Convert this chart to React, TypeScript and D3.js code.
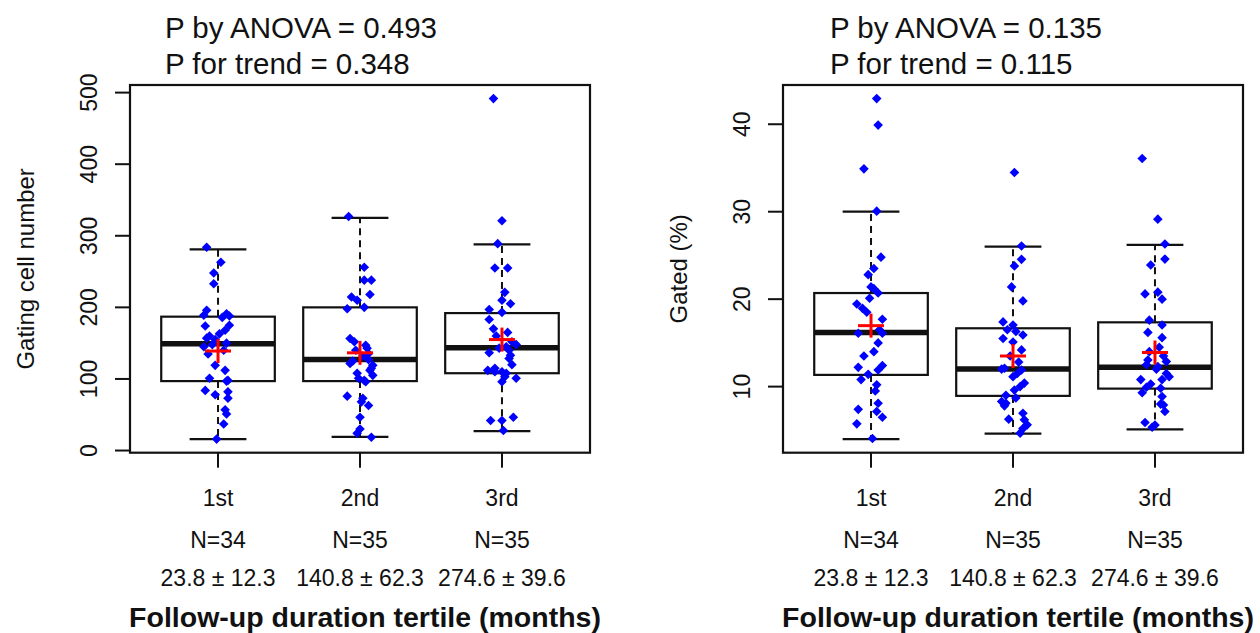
import React from "react";
import * as d3 from "d3";

const groups = ["1st", "2nd", "3rd"];
const nLabels = ["N=34", "N=35", "N=35"];
const durationLabels = ["23.8 ± 12.3", "140.8 ± 62.3", "274.6 ± 39.6"];
const xTitle = "Follow-up duration tertile (months)";

// Left panel: gating cell number
const cellLow = [16, 19, 27];
const cellQ1 = [97, 97, 108];
const cellMedian = [149, 127, 143.5];
const cellQ3 = [187, 200, 192];
const cellHigh = [281, 325, 288];
const cellMean = [139, 136.5, 155];
const cellTicks = [0, 100, 200, 300, 400, 500];
// [jitter (category units), value]
const cellPoints1: [number, number][] = [
  [-0.08, 284], [0.02, 263], [-0.03, 248], [-0.03, 233], [-0.08, 196], [-0.1, 189],
  [0.06, 191], [0.08, 188], [0.08, 175], [-0.09, 174], [0.05, 168], [0.01, 163],
  [-0.08, 157], [-0.02, 155], [0.06, 150], [-0.1, 145], [0.04, 140], [0.03, 186],
  [-0.06, 160], [-0.04, 148], [-0.07, 135], [-0.02, 119], [0.05, 112], [-0.06, 101],
  [0.07, 98], [0.06, 97], [-0.09, 84], [0.07, 82], [-0.02, 78], [0.07, 73],
  [0.05, 57], [0.06, 51], [0.04, 37], [-0.01, 16],
];
const cellPoints2: [number, number][] = [
  [-0.08, 327], [0.03, 256], [0.03, 238], [0.08, 238], [0.07, 218], [-0.06, 214.5],
  [-0.02, 210], [-0.09, 198], [0.03, 200], [-0.07, 156.5], [-0.04, 152], [0.04, 147],
  [0.06, 135.6], [-0.07, 121.7], [0.09, 119], [0.07, 112], [0.09, 105], [-0.01, 101],
  [0.04, 96], [-0.09, 76], [0.02, 73], [0.01, 68], [0.06, 63], [0, 46.5],
  [0, 30], [-0.02, 24], [0.08, 18.6], [0.05, 143], [-0.03, 140], [0.02, 132],
  [0.06, 127], [-0.05, 125], [0.08, 115], [-0.02, 108], [0.03, 98],
];
const cellPoints3: [number, number][] = [
  [-0.06, 491.6], [0, 321], [-0.03, 289], [-0.05, 255], [0.04, 255], [0.02, 221],
  [0, 210], [0.06, 205], [-0.09, 197], [0, 193], [-0.09, 183], [-0.06, 170],
  [0.1, 148], [0.03, 145], [-0.09, 136.5], [0.06, 133], [0.05, 128.6], [-0.1, 112],
  [-0.05, 110], [0, 110], [0.02, 103], [0.1, 101], [0, 96], [-0.08, 42],
  [0, 42], [0.08, 46.5], [0.01, 28], [0.04, 165], [-0.04, 160], [0.07, 152],
  [-0.02, 143], [0.05, 140], [0.07, 120], [-0.05, 115], [0.03, 108],
];

// Right panel: gated (%)
const gatedLow = [4.0, 4.63, 5.1];
const gatedQ1 = [11.34, 8.94, 9.77];
const gatedMedian = [16.2, 12.0, 12.2];
const gatedQ3 = [20.7, 16.67, 17.35];
const gatedHigh = [30.0, 26.0, 26.2];
const gatedMean = [16.97, 13.5, 13.9];
const gatedTicks = [10, 20, 30, 40];
const gatedPoints1: [number, number][] = [
  [0.04, 42.93], [0.05, 39.9], [-0.05, 34.9], [0.04, 30.06], [0.07, 24.8], [-0.02, 22.8],
  [0, 21.4], [0.02, 21.2], [0.05, 20.7], [-0.01, 20.1], [-0.1, 19.44], [-0.06, 18.95],
  [0.08, 17.7], [-0.09, 16.1], [0.08, 16.1], [0.05, 15.0], [0.02, 14.0], [-0.09, 12.2],
  [0.08, 12.4], [0.05, 11.9], [-0.02, 11.4], [-0.07, 10.8], [0.04, 10.2], [0.05, 8.1],
  [-0.09, 7.4], [0.04, 7.15], [0.08, 6.5], [-0.1, 5.74], [0.01, 4.06], [0.02, 23.5],
  [-0.03, 18.5], [0.06, 16.5], [-0.05, 13.5], [0.03, 9.5],
];
const gatedPoints2: [number, number][] = [
  [0.01, 34.48], [0.06, 26.07], [0.06, 24.55], [0.01, 23.8], [-0.01, 21.4], [0.07, 19.8],
  [-0.07, 17.4], [0, 17.05], [-0.04, 16.5], [0.02, 16.3], [0.07, 15.9], [-0.07, 15.5],
  [0, 15.1], [0.06, 14.2], [-0.06, 12.1], [0.06, 11.9], [0, 11.14], [0.08, 10.4],
  [0.05, 10.0], [0.01, 9.6], [-0.08, 8.3], [-0.05, 8.1], [0.07, 6.96], [0.08, 6.2],
  [-0.03, 6.28], [0.1, 5.63], [0.05, 4.68], [-0.02, 13.5], [0.04, 12.8], [-0.08, 12.0],
  [0.03, 11.5], [-0.05, 9.0], [0.02, 8.7], [-0.06, 7.8], [0.07, 5.2],
];
const gatedPoints3: [number, number][] = [
  [-0.09, 36.08], [0.02, 29.15], [0.07, 26.3], [0.07, 24.58], [-0.03, 23.9], [-0.07, 20.6],
  [0.02, 20.8], [0.05, 20.0], [-0.04, 17.6], [0.05, 17.05], [-0.05, 16.2], [0.05, 15.6],
  [0.08, 12.86], [-0.05, 13.05], [0.01, 11.99], [0.1, 11.14], [-0.1, 10.8], [0.05, 10.8],
  [-0.06, 9.93], [0.04, 9.82], [-0.09, 9.3], [0.05, 8.86], [0.06, 7.9], [0.07, 7.15],
  [-0.07, 5.9], [-0.02, 5.36], [0.03, 14.5], [-0.04, 14.0], [0.06, 13.5], [-0.06, 12.5],
  [0.02, 12.3], [0.08, 11.5], [-0.03, 10.3], [0.04, 8.0], [0.0, 5.6],
];

const FONT = "'Liberation Sans', Arial, Helvetica, sans-serif";

type PanelProps = {
  left: number;
  titleX: number;
  p1: string;
  p2: string;
  yTitle: string;
  ticks: number[];
  low: number[];
  q1: number[];
  med: number[];
  q3: number[];
  high: number[];
  mean: number[];
  points: [number, number][][];
};

const TOP = 85;
const BOTTOM = 452.7;
const WIDTH = 460;

function Panel(p: PanelProps) {
  const right = p.left + WIDTH;
  const x = d3.scaleLinear().domain([0.38, 3.62]).range([p.left, right]);
  const allVals = [...p.points.flat().map((d) => d[1]), ...p.low, ...p.high];
  const [lo, hi] = d3.extent(allVals) as [number, number];
  const pad = (hi - lo) * 0.04;
  const y = d3.scaleLinear().domain([lo - pad, hi + pad]).range([BOTTOM, TOP]);
  const cx = (p.left + right) / 2;
  const tickFs = 23;
  const yTitleFs = 24;
  const diamond = (r: number) => `M0,${-r}L${r},0L0,${r}L${-r},0Z`;
  return (
    <g fontFamily={FONT} fill="#111">
      <text x={p.titleX} y={38} fontSize={29.5}>{p.p1}</text>
      <text x={p.titleX} y={74} fontSize={29.5}>{p.p2}</text>

      {/* y axis */}
      <line x1={p.left} x2={p.left} y1={y(p.ticks[0])} y2={y(p.ticks[p.ticks.length - 1])} stroke="#111" strokeWidth={2} />
      {p.ticks.map((t) => (
        <g key={t}>
          <line x1={p.left - 15} x2={p.left} y1={y(t)} y2={y(t)} stroke="#111" strokeWidth={2} />
          <text
            transform={`translate(${p.left - 41 + tickFs * 0.36},${y(t)}) rotate(-90)`}
            textAnchor="middle"
            fontSize={tickFs}
          >
            {t}
          </text>
        </g>
      ))}
      <text
        transform={`translate(${p.left - 105 + yTitleFs * 0.36},${(TOP + BOTTOM) / 2}) rotate(-90)`}
        textAnchor="middle"
        fontSize={yTitleFs}
      >
        {p.yTitle}
      </text>

      {/* x ticks and labels */}
      {groups.map((g, i) => (
        <g key={g}>
          <line x1={x(i + 1)} x2={x(i + 1)} y1={BOTTOM} y2={BOTTOM + 15} stroke="#111" strokeWidth={2} />
          <text x={x(i + 1)} y={506} textAnchor="middle" fontSize={tickFs}>{g}</text>
          <text x={x(i + 1)} y={548} textAnchor="middle" fontSize={tickFs}>{nLabels[i]}</text>
          <text x={x(i + 1)} y={586} textAnchor="middle" fontSize={tickFs}>{durationLabels[i]}</text>
        </g>
      ))}
      <text x={cx + 5} y={627} textAnchor="middle" fontSize={28.5} fontWeight="bold">{xTitle}</text>

      {/* boxes */}
      {groups.map((g, i) => {
        const c = x(i + 1);
        const hw = x(1.4) - x(1);
        const sw = x(1.2) - x(1);
        return (
          <g key={g} stroke="#111" fill="none">
            <line x1={c} x2={c} y1={y(p.q3[i])} y2={y(p.high[i])} strokeWidth={2} strokeDasharray="7,5" />
            <line x1={c} x2={c} y1={y(p.q1[i])} y2={y(p.low[i])} strokeWidth={2} strokeDasharray="7,5" />
            <line x1={c - sw} x2={c + sw} y1={y(p.high[i])} y2={y(p.high[i])} strokeWidth={2.2} />
            <line x1={c - sw} x2={c + sw} y1={y(p.low[i])} y2={y(p.low[i])} strokeWidth={2.2} />
            <rect x={c - hw} y={y(p.q3[i])} width={2 * hw} height={y(p.q1[i]) - y(p.q3[i])} fill="white" strokeWidth={2.2} />
            <line x1={c - hw} x2={c + hw} y1={y(p.med[i])} y2={y(p.med[i])} strokeWidth={5.5} />
          </g>
        );
      })}

      {/* points */}
      {p.points.map((pts, i) =>
        pts.map(([j, v], k) => (
          <path key={`${i}-${k}`} d={diamond(4.8)} transform={`translate(${x(i + 1 + j)},${y(v)})`} fill="#0000ff" />
        ))
      )}

      {/* mean crosses */}
      {p.mean.map((m, i) => (
        <g key={i} stroke="#ff0000" strokeWidth={3}>
          <line x1={x(i + 1) - 13} x2={x(i + 1) + 13} y1={y(m)} y2={y(m)} />
          <line x1={x(i + 1)} x2={x(i + 1)} y1={y(m) - 12} y2={y(m) + 12} />
        </g>
      ))}

      {/* frame */}
      <rect x={p.left} y={TOP} width={WIDTH} height={BOTTOM - TOP} fill="none" stroke="#111" strokeWidth={2.2} />
    </g>
  );
}

export default function App() {
  return (
    <div style={{ position: "absolute", left: 0, top: 0 }}>
      <svg width={1260} height={633} style={{ display: "block", background: "white" }}>
        <Panel
          left={130}
          titleX={165}
          p1="P by ANOVA = 0.493"
          p2="P for trend = 0.348"
          yTitle="Gating cell number"
          ticks={cellTicks}
          low={cellLow}
          q1={cellQ1}
          med={cellMedian}
          q3={cellQ3}
          high={cellHigh}
          mean={cellMean}
          points={[cellPoints1, cellPoints2, cellPoints3]}
        />
        <Panel
          left={783}
          titleX={830}
          p1="P by ANOVA = 0.135"
          p2="P for trend = 0.115"
          yTitle="Gated (%)"
          ticks={gatedTicks}
          low={gatedLow}
          q1={gatedQ1}
          med={gatedMedian}
          q3={gatedQ3}
          high={gatedHigh}
          mean={gatedMean}
          points={[gatedPoints1, gatedPoints2, gatedPoints3]}
        />
      </svg>
    </div>
  );
}
